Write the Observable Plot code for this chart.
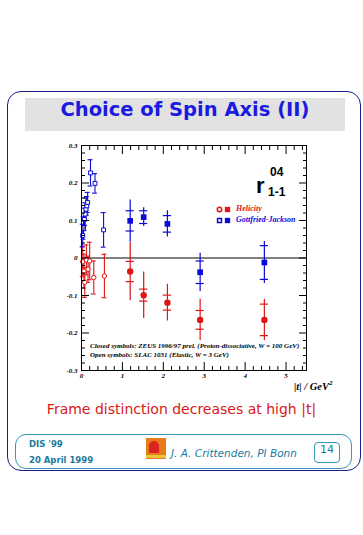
<!DOCTYPE html>
<html><head><meta charset="utf-8">
<script src="https://cdn.jsdelivr.net/npm/d3@7"></script>
<script src="https://cdn.jsdelivr.net/npm/@observablehq/plot@0.6"></script>
<style>
html,body{margin:0;padding:0;background:#fff;}
#page{position:relative;width:363px;height:535px;overflow:hidden;background:#fff;font-family:"DejaVu Sans",sans-serif;}
.abs{position:absolute;white-space:nowrap;}
#outer{left:7px;top:91px;width:352px;height:378px;border:1.5px solid #1c1c86;border-radius:14px;}
#band{left:25px;top:98px;width:320px;height:33px;background:#e2e2e2;}
#title{left:25px;top:98px;width:320px;height:33px;line-height:33px;text-align:center;font:bold 19.5px "DejaVu Sans",sans-serif;color:#1a1ae0;}
#chart{left:0;top:135px;}
#chart svg text{font-family:"Liberation Serif",serif;font-style:italic;font-weight:bold;font-size:7px;}
.serif{font-family:"Liberation Serif",serif;font-style:italic;font-weight:bold;}
#sub{left:0;top:401px;width:363px;text-align:center;font:14px "DejaVu Sans",sans-serif;color:#d81818;}
#foot{left:15px;top:434px;width:335px;height:33px;border:1.5px solid #3896b6;border-radius:11px;}
.ft{color:#1a7aa0;font:bold 8.5px "DejaVu Sans",sans-serif;}
#logo{left:146px;top:438px;width:20px;height:21px;background:#e77a1a;}
#logo2{left:149px;top:441px;width:10px;height:12px;background:#d22;border-radius:5px 5px 1px 1px;}
#logo3{left:146px;top:455px;width:20px;height:3px;background:#e8c83a;}
#auth{left:171px;top:447px;color:#1a7aa0;font:italic 10.5px "DejaVu Sans",sans-serif;}
#pg{left:314px;top:442px;width:24px;height:19px;border:1px solid #3896b6;border-radius:4px;text-align:center;line-height:19px;color:#1a7aa0;font:11px "DejaVu Sans",sans-serif;}
</style>
</head><body>
<div id="page">
  <div id="outer" class="abs"></div>
  <div id="band" class="abs"></div>
  <div id="title" class="abs">Choice of Spin Axis (II)</div>
  <div id="chart" class="abs"></div>
  <div class="abs" style="left:256px;top:175px;font:bold 22px 'Liberation Sans',sans-serif;line-height:22px;color:#000;">r</div>
  <div class="abs" style="left:270px;top:166px;font:bold 12px 'Liberation Sans',sans-serif;line-height:12px;color:#000;">04</div>
  <div class="abs" style="left:268px;top:186px;font:bold 12px 'Liberation Sans',sans-serif;line-height:12px;color:#000;">1-1</div>
  <div class="abs serif" style="left:236px;top:204px;font-size:8px;color:#e01515;">Helicity</div>
  <div class="abs serif" style="left:236px;top:215px;font-size:8px;color:#0a0ad8;">Gottfried-Jackson</div>
  <div class="abs serif" style="left:90px;top:342px;font-size:7px;color:#000;">Closed symbols: ZEUS 1996/97 prel. (Proton-dissociative, W = 100 GeV)</div>
  <div class="abs serif" style="left:90px;top:351px;font-size:7px;color:#000;">Open symbols: SLAC 1031 (Elastic, W = 3 GeV)</div>
  <div class="abs serif" style="left:294px;top:379px;font-size:10.5px;color:#000;">|t| / GeV<sup style="font-size:7px;vertical-align:5px">2</sup></div>
  <div id="sub" class="abs">Frame distinction decreases at high |t|</div>
  <div id="foot" class="abs"></div>
  <div class="abs ft" style="left:29px;top:439px;">DIS '99</div>
  <div class="abs ft" style="left:29px;top:455px;">20 April 1999</div>
  <div id="logo" class="abs"></div><div id="logo2" class="abs"></div><div id="logo3" class="abs"></div>
  <div id="auth" class="abs">J. A. Crittenden, PI Bonn</div>
  <div id="pg" class="abs">14</div>
</div>
<script>
// ZEUS (closed symbols)
const tZeus        = [1.19, 1.52, 2.10, 2.90, 4.47];
const heliZeus     = [-0.036, -0.099, -0.119, -0.165, -0.165];
const heliZeusStat = [0.027, 0.016, 0.020, 0.025, 0.042];
const heliZeusTot  = [0.078, 0.062, 0.049, 0.055, 0.055];
const gjZeus       = [0.099, 0.109, 0.091, -0.038, -0.012];
const gjZeusStat   = [0.027, 0.017, 0.022, 0.030, 0.045];
const gjZeusTot    = [0.056, 0.025, 0.035, 0.051, 0.056];
// SLAC (open symbols)
const tSlacHeli    = [0.03, 0.06, 0.08, 0.12, 0.16, 0.20, 0.30, 0.56];
const heliSlac     = [-0.010, -0.035, -0.065, -0.005, -0.030, -0.008, -0.052, -0.048];
const heliSlacErr  = [0.040, 0.045, 0.040, 0.040, 0.035, 0.050, 0.044, 0.058];
const tSlacGJ      = [0.03, 0.05, 0.07, 0.09, 0.11, 0.13, 0.15, 0.22, 0.33, 0.54];
const gjSlac       = [0.060, 0.080, 0.103, 0.117, 0.130, 0.139, 0.148, 0.227, 0.199, 0.075];
const gjSlacErr    = [0.030, 0.030, 0.030, 0.030, 0.030, 0.025, 0.027, 0.035, 0.026, 0.046];
// axes
const xMajor = [0, 1, 2, 3, 4, 5];
const xMinor = [0.2,0.4,0.6,0.8,1.2,1.4,1.6,1.8,2.2,2.4,2.6,2.8,3.2,3.4,3.6,3.8,4.2,4.4,4.6,4.8,5.2,5.4];
const yMajor = [-0.3, -0.2, -0.1, 0, 0.1, 0.2, 0.3];
const yMinor = [-0.28,-0.26,-0.24,-0.22,-0.18,-0.16,-0.14,-0.12,-0.08,-0.06,-0.04,-0.02,0.02,0.04,0.06,0.08,0.12,0.14,0.16,0.18,0.22,0.24,0.26,0.28];

const RED = "#e01515", BLUE = "#0a0ad8";
const zeus = tZeus.flatMap((t, i) => [
  {t, v: heliZeus[i], stat: heliZeusStat[i], tot: heliZeusTot[i], c: RED, sym: "circle"},
  {t, v: gjZeus[i], stat: gjZeusStat[i], tot: gjZeusTot[i], c: BLUE, sym: "square"}
]);
const zeusTicks = zeus.flatMap(d => [{...d, y: d.v + d.stat}, {...d, y: d.v - d.stat}]);
const slac = [
  ...tSlacHeli.map((t, i) => ({t, v: heliSlac[i], e: heliSlacErr[i], c: RED, sym: "circle"})),
  ...tSlacGJ.map((t, i) => ({t, v: gjSlac[i], e: gjSlacErr[i], c: BLUE, sym: "square"}))
];
const slacCaps = slac.flatMap(d => [{...d, y: d.v + d.e}, {...d, y: d.v - d.e}]);
const legendRows = [
  {label: "Helicity", c: RED},
  {label: "Gottfried-Jackson", c: BLUE}
];
const blank = () => "";
const fmtY = d => d === 0 ? "0" : String(d);

const chart = Plot.plot({
  width: 363, height: 260,
  marginLeft: 81, marginRight: 57, marginTop: 10, marginBottom: 25,
  x: {domain: [0, 5.5]},
  y: {domain: [-0.3, 0.3]},
  style: {background: "transparent", overflow: "visible"},
  marks: [
    Plot.ruleY([0], {stroke: "#000", strokeWidth: 1}),
    Plot.ruleX(zeus, {x: "t", y1: d => d.v - d.tot, y2: d => d.v + d.tot, stroke: "c", strokeWidth: 1.2}),
    Plot.ruleY(zeusTicks, {y: "y", x1: d => d.t - 0.1, x2: d => d.t + 0.1, stroke: "c", strokeWidth: 1.2}),
    Plot.dot(zeus, {x: "t", y: "v", fill: "c", symbol: "sym", r: 3.2}),
    Plot.ruleX(slac, {x: "t", y1: d => d.v - d.e, y2: d => d.v + d.e, stroke: "c", strokeWidth: 1.1}),
    Plot.ruleY(slacCaps, {y: "y", x1: d => d.t - 0.06, x2: d => d.t + 0.06, stroke: "c", strokeWidth: 1.1}),
    Plot.dot(slac, {x: "t", y: "v", stroke: "c", fill: "white", symbol: "sym", r: 2.2, strokeWidth: 1}),
    Plot.frame({stroke: "#000", strokeWidth: 1}),
    Plot.axisY(yMajor, {anchor: "left", tickSize: 0, tickPadding: 4, tickFormat: fmtY, label: null}),
    Plot.axisX(xMajor, {anchor: "bottom", tickSize: 0, tickPadding: 3, tickFormat: d => String(d), label: null}),
    Plot.axisY(yMajor, {anchor: "left", tickSize: -8, tickFormat: blank, label: null}),
    Plot.axisY(yMajor, {anchor: "right", tickSize: -8, tickFormat: blank, label: null}),
    Plot.axisY(yMinor, {anchor: "left", tickSize: -4, tickFormat: blank, label: null}),
    Plot.axisY(yMinor, {anchor: "right", tickSize: -4, tickFormat: blank, label: null}),
    Plot.axisX(xMajor, {anchor: "bottom", tickSize: -8, tickFormat: blank, label: null}),
    Plot.axisX(xMajor, {anchor: "top", tickSize: -8, tickFormat: blank, label: null}),
    Plot.axisX(xMinor, {anchor: "bottom", tickSize: -4, tickFormat: blank, label: null}),
    Plot.axisX(xMinor, {anchor: "top", tickSize: -4, tickFormat: blank, label: null})
  ]
});
document.getElementById("chart").appendChild(chart);

legendRows.forEach((row, i) => {
  const leg = Plot.plot({
    width: 20, height: 10, margin: 0,
    x: {domain: [0, 1], axis: null}, y: {domain: [0, 1], axis: null},
    style: {background: "transparent", overflow: "visible"},
    marks: [
      Plot.dot([row], {x: () => 0.2, y: () => 0.5, stroke: "c", fill: "white", symbol: i === 0 ? "circle" : "square", r: 2.2}),
      Plot.dot([row], {x: () => 0.6, y: () => 0.5, fill: "c", symbol: "square", r: 3})
    ]
  });
  const holder = document.createElement("div");
  holder.className = "abs";
  holder.style.left = "215px";
  holder.style.top = (204 + i * 11) + "px";
  holder.appendChild(leg);
  document.getElementById("page").appendChild(holder);
});
</script>
</body></html>
